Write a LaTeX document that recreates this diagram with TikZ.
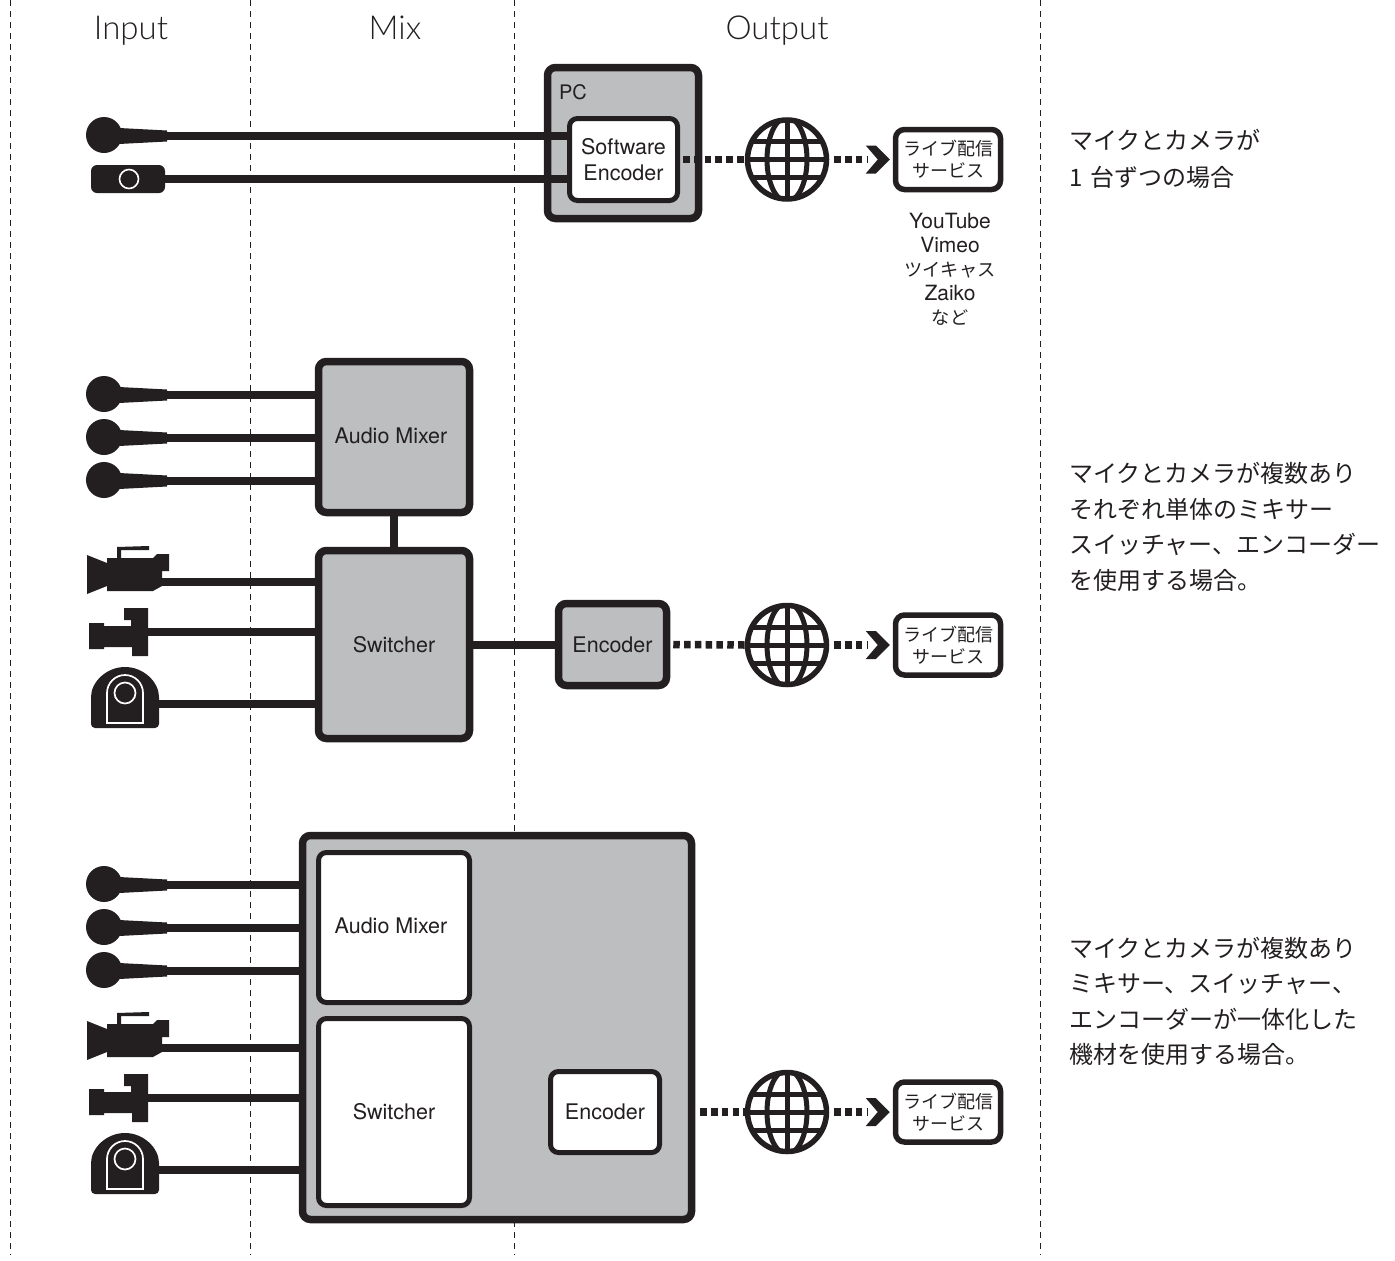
\documentclass[tikz,border=0pt]{standalone}
\usepackage{fontspec}
\setmainfont{Noto Sans CJK JP}
\newfontfamily\labelfont{TeX Gyre Heros}
\newfontfamily\headfont{Lato Light}
\usepackage{xcolor}
\usetikzlibrary{positioning}
\definecolor{ink}{HTML}{231F20}
\definecolor{panel}{HTML}{BCBEC0}
\tikzset{
    guide/.style={ink, line width=0.8pt, dash pattern=on 6pt off 5pt},
    wire/.style={ink, line width=8pt},
    datalink/.style={ink, line width=7.5pt, dash pattern=on 6.5pt off 4.3pt},
    graybox/.style={draw=ink, fill=panel, line width=7.5pt, rounded corners=8pt, inner sep=0pt, text=ink, font=\labelfont\fontsize{21.5}{26}\selectfont, align=center},
    whitebox/.style={draw=ink, fill=white, line width=5pt, rounded corners=8pt, inner sep=0pt, text=ink, font=\labelfont\fontsize{21.5}{26}\selectfont, align=center},
    servicebox/.style={draw=ink, fill=white, line width=5.5pt, rounded corners=9pt, inner sep=0pt, text=ink, minimum width=105pt, minimum height=60pt, font=\fontsize{18}{22}\selectfont, align=center},
    heading/.style={text=ink, anchor=base, font=\headfont\fontsize{33}{36}\selectfont},
    note/.style={text=ink, anchor=west, align=left, inner sep=0pt, font=\fontsize{24}{35.5}\selectfont},
    globe/.style={circle, draw=ink, line width=5.5pt, fill=white, minimum size=79pt, inner sep=0pt,
        path picture={
            \begin{scope}[shift={(path picture bounding box.center)}, line width=5pt, ink]
                \draw (0,0) ellipse (20 and 42);
                \draw (0,-42) -- (0,42);
                \draw (-42,0) -- (42,0);
                \draw (-42,-18) -- (42,-18);
                \draw (-42,18) -- (42,18);
            \end{scope}
        }},
    mic/.pic={
        \fill[ink] (0,-1) circle (18);
        \fill[ink] (15,-8) -- (63,-5.5) -- (63,5.5) -- (15,8) -- cycle;
        \coordinate (-end) at (63,0);
    },
    boxcam/.pic={
        \fill[ink, rounded corners=6pt] (-38,-14) rectangle (36,14);
        \draw[white, line width=1.6pt] (0,0) circle (9.5);
        \coordinate (-end) at (36,0);
    },
    videocam/.pic={
        \fill[ink] (0,-27) -- (20,-19) -- (20,-24) -- (30,-24) -- (30,-35) -- (62,-36) -- (62,-32) -- (34,-32)
            -- (34,-24) -- (66,-24) -- (70,-28) -- (82,-28) -- (82,-11) -- (75,-11) -- (75,4) -- (66,9)
            -- (20,9) -- (20,4) -- (0,12) -- cycle;
        \coordinate (-end) at (75,0);
    },
    studiocam/.pic={
        \fill[ink] (0,-9) -- (15,-9) -- (15,-6) -- (42,-6) -- (42,-12) -- (35,-12) -- (35,-24) -- (59,-24)
            -- (59,24) -- (43,24) -- (43,15) -- (15,15) -- (15,17) -- (0,17) -- cycle;
        \coordinate (-end) at (59,0);
    },
    ptzcam/.pic={
        \fill[ink, rounded corners=4pt] (-34,-3) arc[start angle=180, end angle=360, radius=34] -- (34,24) -- (-34,24) -- cycle;
        \draw[white, line width=1.7pt] (-18,19) -- (-18,-11) arc[start angle=180, end angle=360, radius=18] -- (18,19) -- cycle;
        \draw[white, line width=1.7pt] (0,-11) circle (10.5);
        \coordinate (-end) at (34,0);
    },
    chevron/.pic={
        \fill[ink] (-27,-14) -- (-17,-14) -- (-3,0) -- (-17,14) -- (-27,14) -- (-15,0) -- cycle;
    },
}
\begin{document}
\begin{tikzpicture}[x=1pt, y=-1pt]
    \useasboundingbox (0,0) rectangle (1395,1261);
    % Column guides
    \draw[guide] (10,0) -- (10,1255);
    \draw[guide] (250,0) -- (250,1255);
    \draw[guide] (514,0) -- (514,1255);
    \draw[guide] (1040,0) -- (1040,1255);
    % Column headings
    \node[heading] (headInput) at (131,39) {Input};
    \node[heading] (headMix) at (395,39) {Mix};
    \node[heading] (headOutput) at (777,39) {Output};

    % Case 1: one mic, one camera, PC
    \node[graybox, minimum width=151pt, minimum height=151pt] (pcBox) at (623,143) {};
    \node[text=ink, font=\labelfont\fontsize{20}{26}\selectfont] (pcLabel) at (573,92) {PC};
    \pic (micP) at (104,136) {mic};
    \pic (camP) at (129,179) {boxcam};
    \node[whitebox, minimum width=108pt, minimum height=82pt] (softEnc) at (623.5,159.5) {Software\\Encoder};
    \draw[wire] (micP-end) -- (micP-end -| softEnc.west);
    \draw[wire] (camP-end) -- (camP-end -| softEnc.west);
    \node[globe] (netP) at (787,159.5) {};
    \node[servicebox] (servP) at (948,159.5) {ライブ配信\\サービス};
    \draw[datalink, shorten <=3pt] (softEnc.east) -- (netP.west);
    \draw[datalink, shorten <=5pt, shorten >=26pt] (netP.east) -- (servP.west);
    \pic at (servP.west) {chevron};
    \node[text=ink, align=center, font=\fontsize{18.2}{24}\selectfont] (servList) at (950,269) {{\labelfont\fontsize{21}{24}\selectfont YouTube}\\{\labelfont\fontsize{21}{24}\selectfont Vimeo}\\ツイキャス\\{\labelfont\fontsize{21}{24}\selectfont Zaiko}\\など};
    \node[note, font=\fontsize{24}{37}\selectfont] (noteP) at (1069,158.5) {マイクとカメラが\\1 \hspace{3pt}台ずつの場合};

    % Case 2: separate mixer, switcher, encoder
    \node[graybox, minimum width=151pt, minimum height=151pt] (mixA) at (394,437) {};
    \node[text=ink, font=\labelfont\fontsize{21.5}{26}\selectfont] (mixAText) at (391,436) {Audio Mixer};
    \node[graybox, minimum width=151pt, minimum height=188pt] (swA) at (394,644.5) {Switcher};
    \node[graybox, minimum width=108pt, minimum height=82pt] (encA) at (612.5,644.5) {Encoder};
    \pic (micA) at (104,395) {mic};
    \pic (micB) at (104,438) {mic};
    \pic (micC) at (104,481) {mic};
    \pic (videoA) at (87,582) {videocam};
    \pic (studioA) at (89,632) {studiocam};
    \pic (ptzA) at (125,704) {ptzcam};
    \draw[wire] (micA-end) -- (micA-end -| mixA.west);
    \draw[wire] (micB-end) -- (micB-end -| mixA.west);
    \draw[wire] (micC-end) -- (micC-end -| mixA.west);
    \draw[wire] (videoA-end) -- (videoA-end -| swA.west);
    \draw[wire] (studioA-end) -- (studioA-end -| swA.west);
    \draw[wire] (ptzA-end) -- (ptzA-end -| swA.west);
    \draw[wire] (mixA.south) -- (swA.north);
    \draw[wire] (swA.east) -- (encA.west);
    \node[globe] (netA) at (787,645) {};
    \node[servicebox] (servA) at (948,645) {ライブ配信\\サービス};
    \draw[datalink, shorten <=3pt] (encA.east) -- (netA.west);
    \draw[datalink, shorten <=5pt, shorten >=26pt] (netA.east) -- (servA.west);
    \pic at (servA.west) {chevron};
    \node[note] (noteA) at (1069,527) {マイクとカメラが複数あり\\それぞれ単体のミキサー\\スイッチャー、エンコーダー\\を使用する場合。};

    % Case 3: all-in-one unit
    \node[graybox, minimum width=389pt, minimum height=384pt] (unitB) at (497,1027.5) {};
    \node[whitebox, minimum width=151pt, minimum height=150pt] (mixB) at (394,927.5) {};
    \node[text=ink, font=\labelfont\fontsize{21.5}{26}\selectfont] (mixBText) at (391,926) {Audio Mixer};
    \node[whitebox, minimum width=151pt, minimum height=187pt] (swB) at (394,1112) {Switcher};
    \node[whitebox, minimum width=109pt, minimum height=81pt] (encB) at (605,1112) {Encoder};
    \pic (micD) at (104,885) {mic};
    \pic (micE) at (104,928) {mic};
    \pic (micF) at (104,971) {mic};
    \pic (videoB) at (87,1048) {videocam};
    \pic (studioB) at (89,1098) {studiocam};
    \pic (ptzB) at (125,1170) {ptzcam};
    \draw[wire] (micD-end) -- (micD-end -| unitB.west);
    \draw[wire] (micE-end) -- (micE-end -| unitB.west);
    \draw[wire] (micF-end) -- (micF-end -| unitB.west);
    \draw[wire] (videoB-end) -- (videoB-end -| unitB.west);
    \draw[wire] (studioB-end) -- (studioB-end -| unitB.west);
    \draw[wire] (ptzB-end) -- (ptzB-end -| unitB.west);
    \node[globe] (netB) at (787,1112) {};
    \node[servicebox] (servB) at (948,1112) {ライブ配信\\サービス};
    \coordinate (unitOut) at (unitB.east |- netB.west);
    \draw[datalink, shorten <=5pt] (unitOut) -- (netB.west);
    \draw[datalink, shorten <=5pt, shorten >=26pt] (netB.east) -- (servB.west);
    \pic at (servB.west) {chevron};
    \node[note] (noteB) at (1069,1001.5) {マイクとカメラが複数あり\\ミキサー、スイッチャー、\\エンコーダーが一体化した\\機材を使用する場合。};
\end{tikzpicture}
\end{document}
